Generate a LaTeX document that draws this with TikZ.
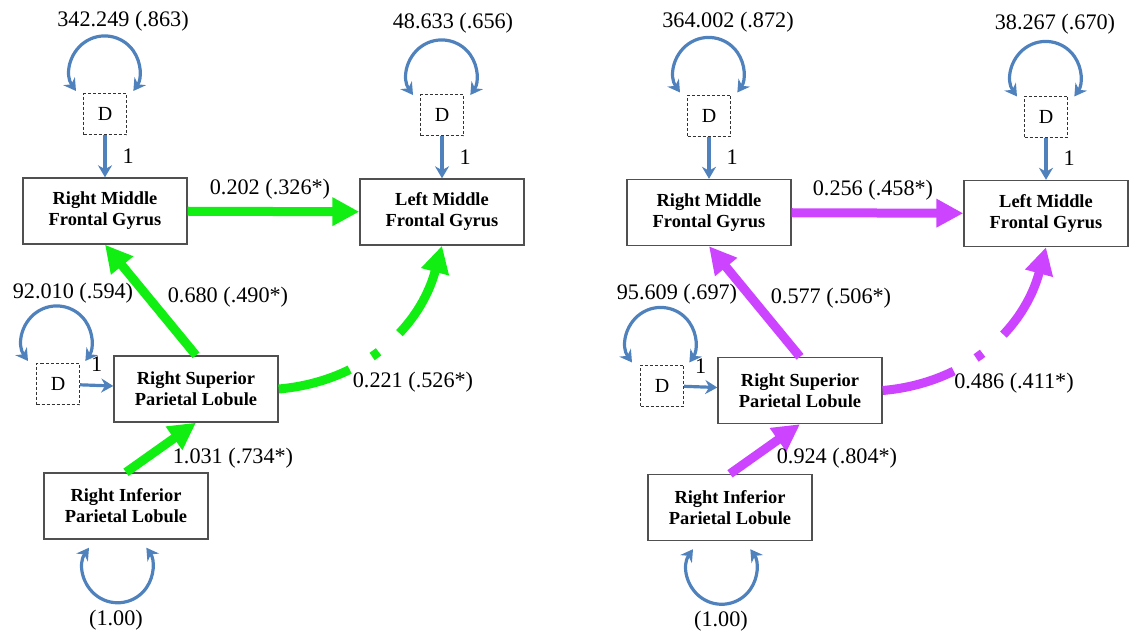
\documentclass[tikz,border=0pt]{standalone}
\usepackage{fontspec}
\setmainfont{Liberation Serif}
\usetikzlibrary{arrows.meta, positioning, calc}
\definecolor{pathblue}{HTML}{4F81BD}
\definecolor{effgreen}{HTML}{11EE11}
\definecolor{effviolet}{HTML}{CC44FF}
\definecolor{boxline}{HTML}{505050}

\begin{document}
\begin{tikzpicture}[
  x=0.5pt, y=0.5pt,
  region/.style={draw=boxline, line width=0.7pt, rectangle, minimum width=82pt,
                 minimum height=33pt, inner sep=0pt, align=center,
                 font=\fontsize{9.2}{10.5}\selectfont\bfseries},
  dist/.style={draw=black!80, line width=0.5pt, dash pattern=on 1.5pt off 1pt,
               minimum width=21.5pt, minimum height=20.5pt, inner sep=0pt,
               font=\fontsize{10}{12}\selectfont},
  est/.style={font=\fontsize{11.1}{12}\selectfont, inner sep=0pt},
  fixed/.style={draw=pathblue, line width=1.6pt, -{Stealth[length=6pt, width=7pt]}},
  varloop/.style={draw=pathblue, line width=1.6pt,
                  {Stealth[length=6pt, width=7pt]}-{Stealth[length=6pt, width=7pt]}},
  effect/.style={line width=4.5pt, -{Triangle[length=13.5pt, width=13.5pt]}},
  broken/.style={dash pattern=on 37pt off 13pt on 4pt off 14pt on 300pt}
]
\useasboundingbox (0,0) rectangle (1136,-637);

% left model
\node[region] (aRMFG) at (105,-211) {Right Middle\\Frontal Gyrus};
\node[region] (aLMFG) at (442,-212) {Left Middle\\Frontal Gyrus};
\node[region] (aRSPL) at (196,-389) {Right Superior\\Parietal Lobule};
\node[region] (aRIPL) at (126,-506) {Right Inferior\\Parietal Lobule};
\node[dist] (aD1) at (105,-114) {D};
\node[dist] (aD2) at (442,-115) {D};
\node[dist] (aD3) at (58,-384) {D};

\node[est] (aV1) at (123,-21) {342.249 (.863)};
\node[est] (aV2) at (453,-23) {48.633 (.656)};
\node[est] (aV3) at (73,-293) {92.010 (.594)};
\node[est] (aV4) at (116,-620) {(1.00)};

\draw[varloop] ($(aD1.north)+(-29,2)$) arc[start angle=215, end angle=-35, radius=35];
\draw[varloop] ($(aD2.north)+(-29,-1)$) arc[start angle=215, end angle=-35, radius=35];
\draw[varloop] ($(aD3.north)+(-30,2)$) arc[start angle=215, end angle=-35, radius=35];
\draw[varloop] ($(aRIPL.south)+(-37,-8)$) arc[start angle=145, end angle=395, radius=35];

\draw[fixed] (aD1) -- node[est, right=8pt] (aF1) {1} (aRMFG);
\draw[fixed] (aD2) -- node[est, right=8pt] (aF2) {1} (aLMFG);
\draw[fixed] (aD3) -- node[est, above=6pt] (aF3) {1} (aRSPL);

\draw[effect, effgreen] (aRMFG) -- (aLMFG);
\draw[effect, effgreen] (aRSPL.north) -- (aRMFG.south);
\draw[effect, effgreen] (aRIPL.north) -- (aRSPL.south);
\draw[effect, effgreen, broken] (aRSPL.east) to[out=5, in=-105] (aLMFG.south);

\node[est] (aP1) at (270,-189) {0.202 (.326*)};
\node[est] (aP2) at (228,-297) {0.680 (.490*)};
\node[est] (aP3) at (413,-382) {0.221 (.526*)};
\node[est] (aP4) at (233,-458) {1.031 (.734*)};

% right model
\begin{scope}[shift={(604,-1.5)}]
\node[region] (bRMFG) at (105,-211) {Right Middle\\Frontal Gyrus};
\node[region] (bLMFG) at (442,-212) {Left Middle\\Frontal Gyrus};
\node[region] (bRSPL) at (196,-389) {Right Superior\\Parietal Lobule};
\node[region] (bRIPL) at (126,-506) {Right Inferior\\Parietal Lobule};
\node[dist] (bD1) at (105,-114) {D};
\node[dist] (bD2) at (442,-115) {D};
\node[dist] (bD3) at (58,-384) {D};

\node[est] (bV1) at (124,-21) {364.002 (.872)};
\node[est] (bV2) at (451,-23) {38.267 (.670)};
\node[est] (bV3) at (73,-293) {95.609 (.697)};
\node[est] (bV4) at (117,-620) {(1.00)};

\draw[varloop] ($(bD1.north)+(-29,2)$) arc[start angle=215, end angle=-35, radius=35];
\draw[varloop] ($(bD2.north)+(-29,-1)$) arc[start angle=215, end angle=-35, radius=35];
\draw[varloop] ($(bD3.north)+(-30,2)$) arc[start angle=215, end angle=-35, radius=35];
\draw[varloop] ($(bRIPL.south)+(-37,-8)$) arc[start angle=145, end angle=395, radius=35];

\draw[fixed] (bD1) -- node[est, right=8pt] (bF1) {1} (bRMFG);
\draw[fixed] (bD2) -- node[est, right=8pt] (bF2) {1} (bLMFG);
\draw[fixed] (bD3) -- node[est, above=6pt] (bF3) {1} (bRSPL);

\draw[effect, effviolet] (bRMFG) -- (bLMFG);
\draw[effect, effviolet] (bRSPL.north) -- (bRMFG.south);
\draw[effect, effviolet] (bRIPL.north) -- (bRSPL.south);
\draw[effect, effviolet, broken] (bRSPL.east) to[out=5, in=-105] (bLMFG.south);

\node[est] (bP1) at (269,-189) {0.256 (.458*)};
\node[est] (bP2) at (227,-297) {0.577 (.506*)};
\node[est] (bP3) at (410,-382) {0.486 (.411*)};
\node[est] (bP4) at (233,-457) {0.924 (.804*)};
\end{scope}
\end{tikzpicture}
\end{document}
